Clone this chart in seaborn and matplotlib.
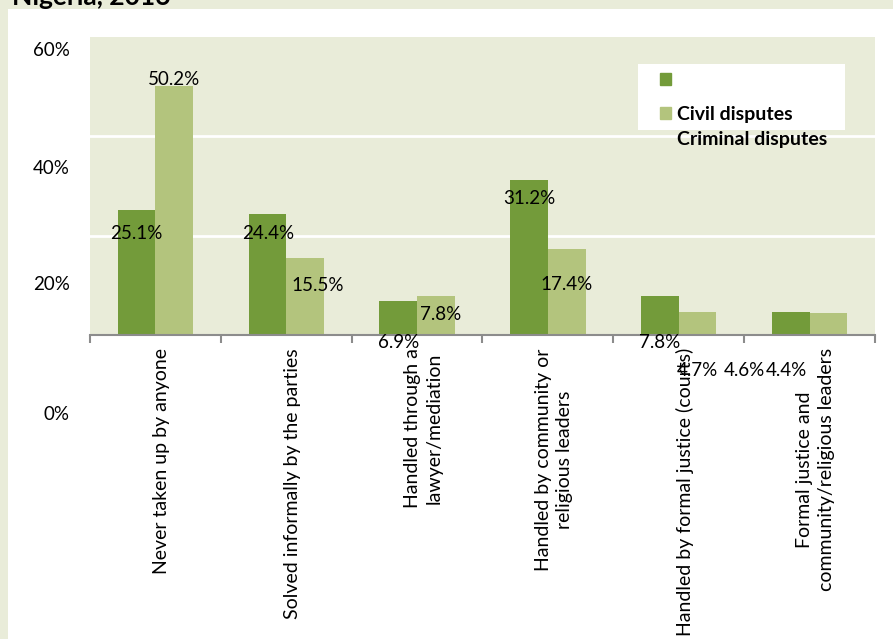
import numpy as np
import pandas as pd
import matplotlib.pyplot as plt
import matplotlib.transforms as mtransforms
from matplotlib.patches import Rectangle, Patch
import seaborn as sns

#################################################################
# How disputes were resolved, Nigeria 2016
#################################################################

categories = ["Never taken up by anyone",
              "Solved informally by the parties",
              "Handled through a\nlawyer/mediation",
              "Handled by community or\nreligious leaders",
              "Handled by formal justice (courts)",
              "Formal justice and\ncommunity/religious leaders"]
civil = [25.1, 24.4, 6.9, 31.2, 7.8, 4.6]
criminal = [50.2, 15.5, 7.8, 17.4, 4.7, 4.4]
series = ["Civil disputes", "Criminal disputes"]
ytick_labels = ["60%", "40%", "20%", "0%"]

data = pd.DataFrame({"category": categories * 2,
                     "value": civil + criminal,
                     "type": [series[0]] * len(civil) + [series[1]] * len(criminal)})

DARK = "#739b3a"
LIGHT = "#b3c47d"
BG = "#e9ecd9"
W, H = 893, 639

plt.rcParams['font.family'] = ['Lato', 'DejaVu Sans']

fig = plt.figure(figsize=(W / 100, H / 100), dpi=100, facecolor=BG)
fig.add_artist(Rectangle((8 / W, 0), 1, 1 - 9 / H, transform=fig.transFigure,
                         facecolor='white', edgecolor='none', zorder=0))
ax = fig.add_axes([90 / W, (H - 335) / H, 785 / W, 298 / H])
ax.set_facecolor(BG)

sns.barplot(data=data, x="category", y="value", hue="type",
            palette=[DARK, LIGHT], width=0.577, saturation=1,
            legend=False, ax=ax, zorder=2)

ax.set_xlim(-0.5, 5.5)
ax.set_ylim(0, 60)
ax.set_xlabel('')
ax.set_ylabel('')
ax.set_yticks([20, 40])
ax.set_yticklabels([])
ax.tick_params(axis='y', length=0)
ax.grid(axis='y', color='white', linewidth=2)
ax.set_axisbelow(True)
for s in ['left', 'top', 'right']:
    ax.spines[s].set_visible(False)
ax.spines['bottom'].set_color('#8c8c8c')
ax.spines['bottom'].set_linewidth(1.5)

# tick marks between the groups, labels at the centres
ax.set_xticks(np.arange(-0.5, 6, 1), minor=True)
ax.tick_params(axis='x', which='minor', length=6, width=1.5, color='#8c8c8c')
ax.tick_params(axis='x', which='major', length=0, pad=9.5, labelsize=14)
shift = mtransforms.ScaledTranslation(6 / 100, 0, fig.dpi_scale_trans)
for lbl in ax.get_xticklabels():
    lbl.set_rotation(90)
    lbl.set_linespacing(1.3)
    lbl.set_transform(lbl.get_transform() + shift)

# the y labels sit off the gridlines in the original
for txt, py in zip(ytick_labels, [50, 168, 285, 415]):
    ax.text(-0.0255, (335 - py) / 298, txt, transform=ax.transAxes,
            ha='right', va='center', fontsize=13.5)

# data labels (offsets in pixels from the bar top)
civil_off = [(0, -23), (1, -20), (0, -42), (0, -18), (0, -46), (-46, -58)]
crim_off = [(0, 6), (13, -27), (5, -18), (0, -36), (0, -59), (-42, -57)]
for cont, vals, offs in zip(ax.containers, [civil, criminal], [civil_off, crim_off]):
    for bar, v, (dx, dy) in zip(cont, vals, offs):
        ax.annotate(f"{v:.1f}%", xy=(bar.get_x() + bar.get_width() / 2, bar.get_height()),
                    xytext=(dx, dy), textcoords='offset pixels',
                    ha='center', va='center', fontsize=13.5, annotation_clip=False, zorder=5)

# legend: white box, handles one row above their labels
ax.add_patch(Rectangle(((638 - 90) / 785, (335 - 130) / 298), 207 / 785, 66 / 298,
                       transform=ax.transAxes, facecolor='white', edgecolor='none', zorder=4))
leg = ax.legend(handles=[Patch(color=DARK), Patch(color=LIGHT)],
                labels=[" ", series[0]], loc='upper left',
                bbox_to_anchor=((660 - 90) / 785, (335 - 72) / 298),
                frameon=False, prop={'weight': 'bold', 'size': 14},
                handlelength=0.55, handleheight=0.55, handletextpad=0.3,
                labelspacing=0.85, borderpad=0, borderaxespad=0)
leg.set_zorder(6)
ax.text((677 - 90) / 785, (335 - 140) / 298, series[1], transform=ax.transAxes,
        ha='left', va='center', fontsize=14, fontweight='bold', zorder=6)

fig.text(12 / W, 1 - 5 / H, "Nigeria, 2016", fontsize=19, fontweight='bold', va='baseline')

plt.savefig("out.png", dpi=100, facecolor=BG)
